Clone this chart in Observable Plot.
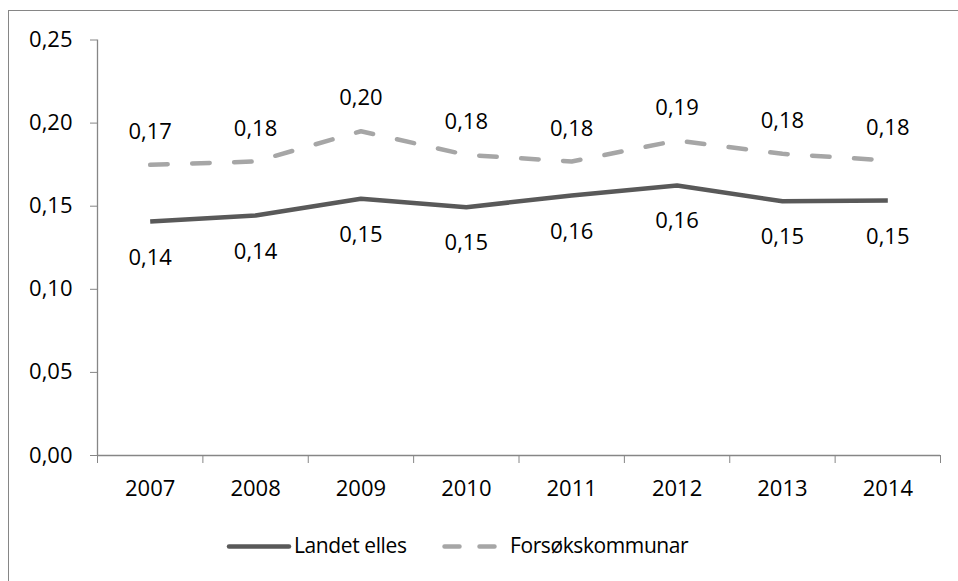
<!DOCTYPE html>
<html>
<head>
<meta charset="utf-8">
<script src="https://cdn.jsdelivr.net/npm/d3@7"></script>
<script src="https://cdn.jsdelivr.net/npm/@observablehq/plot@0.6"></script>
<style>
  html, body { margin: 0; padding: 0; background: #fff; width: 958px; height: 581px; overflow: hidden; }
  body { font-family: "Open Sans", sans-serif; position: relative; }
  #frame { position: absolute; left: 8px; top: 10px; width: 960px; height: 580px;
           border-left: 1px solid #868686; border-top: 1px solid #868686; }
  #chart { position: absolute; left: 0; top: 0; }
  .leg { position: absolute; font-size: 21px; letter-spacing: -0.4px; color: #000; line-height: 1; white-space: nowrap; }
  .leg svg { position: absolute; }
</style>
</head>
<body>
<div id="frame"><div id="chart"></div></div>
<div id="legend"></div>
<script>
const years = [2007, 2008, 2009, 2010, 2011, 2012, 2013, 2014];
const landetElles = [0.1408, 0.1444, 0.1545, 0.1494, 0.1564, 0.1625, 0.1530, 0.1534];
const forsokskommunar = [0.1749, 0.1769, 0.1951, 0.1809, 0.1769, 0.1895, 0.1815, 0.1775];
const yTicks = [0, 0.05, 0.10, 0.15, 0.20, 0.25];
const seriesNames = ["Landet elles", "Forsøkskommunar"];

const fmt = v => v.toFixed(2).replace(".", ",");
const solidData = years.map((y, i) => ({year: y, value: landetElles[i]}));
const dashData = years.map((y, i) => ({year: y, value: forsokskommunar[i]}));
const boundaries = [years[0] - 0.5, ...years.map(y => y + 0.5)];

const axisColor = "#868686";
const solidColor = "#595959";
const dashColor = "#a6a6a6";

const plot = Plot.plot({
  width: 949,
  height: 500,
  marginLeft: 88,
  marginRight: 18,
  marginTop: 28.5,
  marginBottom: 56,
  style: {fontFamily: "Open Sans, sans-serif", fontSize: "22px", color: "#000", background: "transparent"},
  x: {type: "linear", domain: [years[0] - 0.5, years[years.length - 1] + 0.5]},
  y: {domain: [0, 0.25]},
  marks: [
    Plot.ruleX([boundaries[0]], {stroke: axisColor, strokeWidth: 1.3}),
    Plot.ruleY([0], {stroke: axisColor, strokeWidth: 1.3}),
    Plot.axisY(yTicks, {tickFormat: fmt, tickSize: 7, tickPadding: 18, stroke: axisColor, fill: "#000", fontSize: 22, label: null}),
    Plot.axisX(boundaries, {tickSize: 8, tickFormat: () => "", stroke: axisColor, label: null}),
    Plot.axisX(years, {tickSize: 0, tickPadding: 25, tickFormat: d => String(d), fill: "#000", fontSize: 22, label: null}),
    Plot.line(dashData, {x: "year", y: "value", stroke: dashColor, strokeWidth: 4.5, strokeDasharray: "17.5,24.5", strokeLinecap: "round", strokeLinejoin: "round"}),
    Plot.line(solidData, {x: "year", y: "value", stroke: solidColor, strokeWidth: 4.5, strokeLinecap: "butt", strokeLinejoin: "round"}),
    Plot.text(dashData, {x: "year", y: "value", text: d => fmt(d.value), dy: -33, fontSize: 22, fill: "#000"}),
    Plot.text(solidData, {x: "year", y: "value", text: d => fmt(d.value), dy: 36, fontSize: 22, fill: "#000"})
  ]
});
document.getElementById("chart").appendChild(plot);

// Legend (below the plot)
const legend = document.getElementById("legend");
legend.innerHTML = `
  <div class="leg" style="left:226px; top:535px; width:300px; height:24px;">
    <svg width="66" height="24" style="left:0; top:0;">
      <line x1="3" y1="11.5" x2="63" y2="11.5" stroke="${solidColor}" stroke-width="4.5" stroke-linecap="round"/>
    </svg>
    <span style="position:absolute; left:68px; top:0px;">${seriesNames[0]}</span>
  </div>
  <div class="leg" style="left:440px; top:535px; width:300px; height:24px;">
    <svg width="60" height="24" style="left:0; top:0;">
      <line x1="4.5" y1="11.5" x2="54.5" y2="11.5" stroke="${dashColor}" stroke-width="4.5" stroke-linecap="round" stroke-dasharray="15,20"/>
    </svg>
    <span style="position:absolute; left:70px; top:0px;">${seriesNames[1]}</span>
  </div>`;
</script>
</body>
</html>
